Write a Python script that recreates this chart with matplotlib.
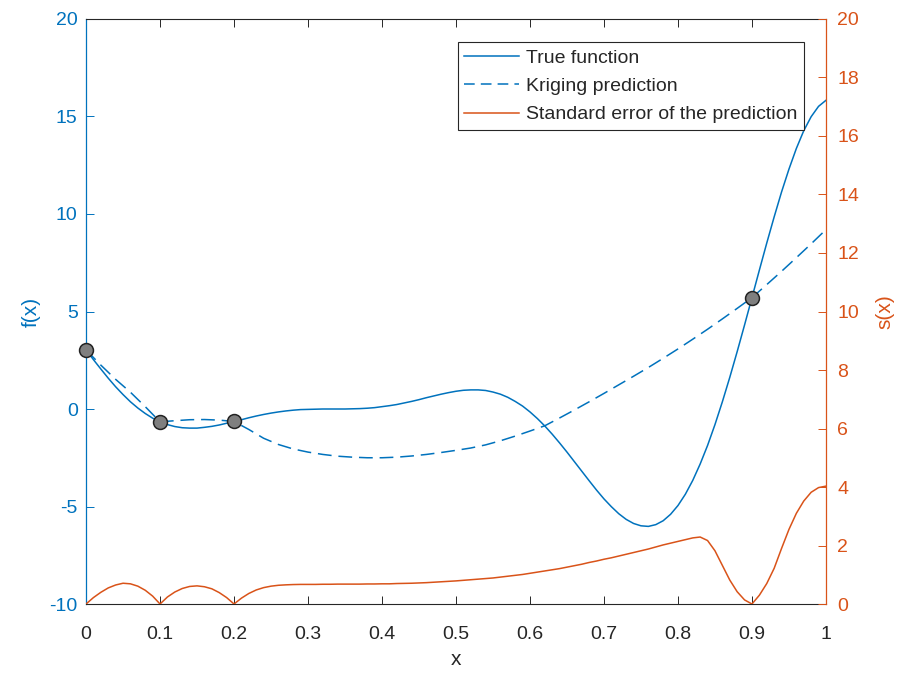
import matplotlib
matplotlib.use("Agg")
import matplotlib.pyplot as plt
from matplotlib.lines import Line2D

plt.rcParams['font.family'] = ['Liberation Sans', 'DejaVu Sans']
plt.rcParams['axes.unicode_minus'] = False

# True function sampled every 0.01 on [0, 1]
x_true = [i / 100 for i in range(101)]
f_true = [3.03, 2.53, 2.05, 1.58, 1.14, 0.74, 0.37, 0.05, -0.23, -0.47,
          -0.66, -0.80, -0.90, -0.96, -0.98, -0.98, -0.94, -0.89, -0.82, -0.73,
          -0.64, -0.55, -0.45, -0.36, -0.28, -0.21, -0.15, -0.10, -0.06, -0.03,
          -0.02, -0.01, 0.00, 0.00, 0.00, 0.00, 0.01, 0.02, 0.04, 0.07,
          0.12, 0.17, 0.23, 0.31, 0.39, 0.48, 0.58, 0.67, 0.76, 0.84,
          0.91, 0.96, 0.98, 0.98, 0.95, 0.87, 0.76, 0.60, 0.39, 0.15,
          -0.15, -0.49, -0.87, -1.29, -1.74, -2.21, -2.70, -3.19, -3.68, -4.16,
          -4.61, -5.01, -5.37, -5.66, -5.87, -5.99, -6.02, -5.93, -5.73, -5.40,
          -4.95, -4.37, -3.66, -2.82, -1.87, -0.80, 0.37, 1.62, 2.94, 4.31,
          5.71, 7.12, 8.51, 9.85, 11.13, 12.30, 13.36, 14.27, 14.99, 15.52, 15.83]

# Kriging prediction, every 0.02
x_pred = [i / 50 for i in range(51)]
f_pred = [3.03, 2.25, 1.52, 0.86, 0.12, -0.66, -0.60, -0.55, -0.54, -0.57,
          -0.64, -1.05, -1.50, -1.82, -2.05, -2.21, -2.33, -2.42, -2.47, -2.50,
          -2.50, -2.47, -2.41, -2.33, -2.23, -2.12, -2.00, -1.84, -1.63, -1.39,
          -1.13, -0.86, -0.46, -0.05, 0.37, 0.80, 1.24, 1.68, 2.13, 2.60,
          3.08, 3.58, 4.09, 4.62, 5.16, 5.71, 6.38, 7.06, 7.76, 8.47, 9.20]

# Standard error of the prediction, every 0.01
x_se = [i / 100 for i in range(101)]
s_err = [0.00, 0.22, 0.40, 0.55, 0.65, 0.71, 0.69, 0.61, 0.47, 0.27,
         0.00, 0.24, 0.41, 0.53, 0.60, 0.62, 0.59, 0.52, 0.39, 0.22,
         0.00, 0.20, 0.36, 0.48, 0.56, 0.61, 0.64, 0.655, 0.665, 0.67,
         0.67, 0.67, 0.675, 0.675, 0.68, 0.68, 0.68, 0.68, 0.685, 0.685,
         0.69, 0.69, 0.70, 0.705, 0.71, 0.72, 0.73, 0.745, 0.76, 0.775,
         0.79, 0.81, 0.83, 0.85, 0.87, 0.89, 0.92, 0.95, 0.98, 1.01,
         1.05, 1.09, 1.13, 1.17, 1.21, 1.26, 1.31, 1.36, 1.42, 1.47,
         1.53, 1.58, 1.64, 1.70, 1.76, 1.82, 1.88, 1.95, 2.02, 2.08,
         2.14, 2.20, 2.26, 2.29, 2.17, 1.82, 1.32, 0.82, 0.42, 0.14,
         0.00, 0.30, 0.70, 1.22, 1.90, 2.55, 3.10, 3.52, 3.82, 3.98, 4.03]

# Sampled points
x_samp = [0.0, 0.1, 0.2, 0.9]
f_samp = [3.03, -0.66, -0.64, 5.71]

x_ticks = [0, 0.1, 0.2, 0.3, 0.4, 0.5, 0.6, 0.7, 0.8, 0.9, 1]
x_tick_labels = ['0', '0.1', '0.2', '0.3', '0.4', '0.5', '0.6', '0.7', '0.8', '0.9', '1']
f_ticks = [-10, -5, 0, 5, 10, 15, 20]
s_ticks = [0, 2, 4, 6, 8, 10, 12, 14, 16, 18, 20]

BLUE = '#0072BD'
ORANGE = '#D95319'
DARK = '#262626'
FS = 14

fig = plt.figure(figsize=(9.01, 6.76), dpi=100)
ax = fig.add_axes([0.0955, 0.1065, 0.8212, 0.8654])
ax2 = ax.twinx()

ax.plot(x_true, f_true, color=BLUE, lw=1.1, zorder=3)
ax.plot(x_pred, f_pred, color=BLUE, lw=1.1, dashes=(9, 4.5), zorder=3)
ax2.plot(x_se, s_err, color=ORANGE, lw=1.1, zorder=3)
ax2.plot(x_samp, [(v + 10) / 1.5 for v in f_samp], linestyle='none', marker='o',
         markersize=10, markerfacecolor='#7f7f7f', markeredgecolor='#222222',
         markeredgewidth=1.1, clip_on=False, zorder=5)

ax.set_xlim(0, 1)
ax.set_ylim(-10, 20)
ax2.set_ylim(0, 20)

ax.set_xticks(x_ticks)
ax.set_xticklabels(x_tick_labels)
ax.set_yticks(f_ticks)
ax2.set_yticks(s_ticks)

ax.tick_params(axis='x', direction='in', top=True, length=6, width=0.7,
               colors=DARK, labelsize=FS, pad=16)
ax.tick_params(axis='y', direction='in', length=6, width=0.7,
               colors=BLUE, labelsize=FS, pad=6)
ax2.tick_params(axis='y', direction='in', length=6, width=0.7,
                colors=ORANGE, labelsize=FS, pad=8)

for sp in ['top', 'bottom']:
    ax.spines[sp].set_color(DARK)
    ax.spines[sp].set_linewidth(0.8)
ax.spines['left'].set_color(BLUE)
ax.spines['left'].set_linewidth(0.9)
ax.spines['right'].set_visible(False)
ax2.spines['left'].set_visible(False)
ax2.spines['top'].set_visible(False)
ax2.spines['bottom'].set_visible(False)
ax2.spines['right'].set_color(ORANGE)
ax2.spines['right'].set_linewidth(0.9)

ax.set_xlabel('x', fontsize=15, color=DARK, labelpad=5)
ax.set_ylabel('f(x)', fontsize=15, color=BLUE, labelpad=6)
ax2.set_ylabel('s(x)', fontsize=15, color=ORANGE, labelpad=12)

handles = [Line2D([], [], color=BLUE, lw=1.1),
           Line2D([], [], color=BLUE, lw=1.1, dashes=(7, 4)),
           Line2D([], [], color=ORANGE, lw=1.1)]
labels = ['True function', 'Kriging prediction', 'Standard error of the prediction']
leg = ax2.legend(handles, labels, loc='upper right', bbox_to_anchor=(0.970, 0.960),
                 borderaxespad=0, fancybox=False, framealpha=1, edgecolor=DARK,
                 fontsize=FS, handlelength=2.8, handletextpad=0.35,
                 labelspacing=0.55, borderpad=0.35)
leg.get_frame().set_linewidth(0.8)
for t in leg.get_texts():
    t.set_color(DARK)

fig.savefig('out.png', dpi=100)
